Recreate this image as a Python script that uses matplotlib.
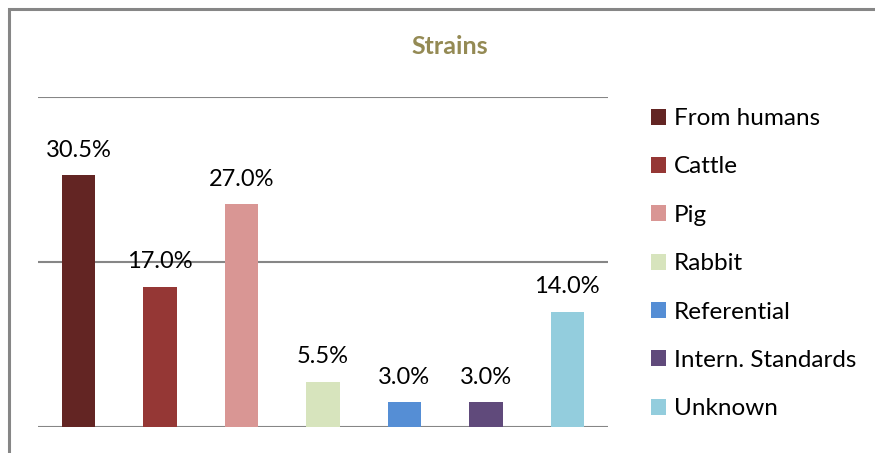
import matplotlib
matplotlib.use("Agg")
import matplotlib.pyplot as plt
from matplotlib.patches import Rectangle, Patch

# strain origin shares (%)
categories = ["From humans", "Cattle", "Pig", "Rabbit", "Referential",
              "Intern. Standards", "Unknown"]
shares = [30.5, 17.0, 27.0, 5.5, 3.0, 3.0, 14.0]
colors = ["#632523", "#953735", "#D99694", "#D7E4BD", "#558ED5",
          "#604A7B", "#93CDDD"]

plt.rcParams['font.family'] = ['Lato', 'DejaVu Sans']

fig = plt.figure(figsize=(8.75, 4.53), dpi=100)
W, H = 875, 453
ax = fig.add_axes([38 / W, (H - 427) / H, (608 - 38) / W, (427 - 97) / H])

x = list(range(len(categories)))
bars = ax.bar(x, shares, width=0.41, color=colors, zorder=3)

for xi, v in zip(x, shares):
    ax.annotate(f"{v:.1f}%", (xi, v), xytext=(0, 10.5), textcoords="offset points",
                ha="center", va="bottom", fontsize=17, color="#000000")

ax.set_xlim(-0.5, len(categories) - 0.5)
ax.set_ylim(0, 40)
ax.set_yticks([0, 20, 40])
ax.yaxis.grid(True, color="#868686", linewidth=1.5, zorder=0)
ax.set_xticks([])
ax.tick_params(left=False, labelleft=False)
for s in ax.spines.values():
    s.set_visible(False)

fig.text(450 / W, 1 - 47 / H, "Strains", ha="center", va="center",
         fontsize=18, fontweight="bold", color="#948A54")

handles = [Patch(facecolor=c, label=l) for c, l in zip(colors, categories)]
fig.legend(handles=handles, loc="upper left",
           bbox_to_anchor=(639 / W, 1 - 96 / H), frameon=False,
           fontsize=17.5, handlelength=0.63, handleheight=0.63,
           handletextpad=0.3, labelspacing=1.125, borderpad=0)

# outer chart border
fig.add_artist(Rectangle((8.5 / W, -0.1), 1.2, 1 - 9.5 / H + 0.1,
                         transform=fig.transFigure, fill=False,
                         edgecolor="#868686", linewidth=2.2, clip_on=False))

fig.savefig("out.png", dpi=100)
